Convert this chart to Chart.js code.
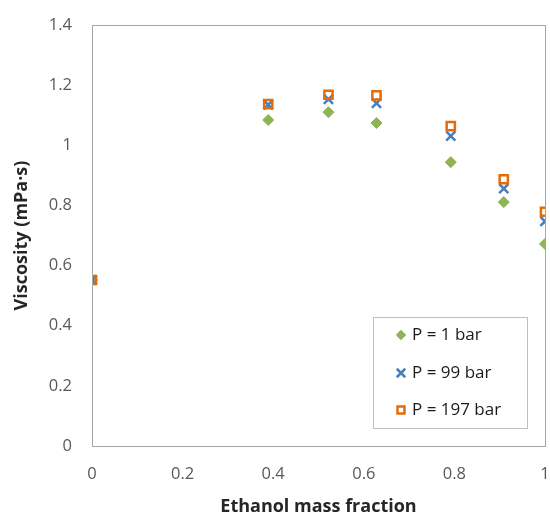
<!DOCTYPE html>
<html>
<head>
<meta charset="utf-8">
<script src="https://cdn.jsdelivr.net/npm/chart.js@4/dist/chart.umd.min.js"></script>
<style>
html,body{margin:0;padding:0;background:#fff;overflow:hidden;}
#wrap{width:550px;height:518px;position:relative;overflow:hidden;}
</style>
</head>
<body>
<div id="wrap"><canvas id="c" width="554" height="518"></canvas></div>
<script>
const massFraction = [0, 0.389, 0.522, 0.628, 0.792, 0.909, 1.0];
const visc1bar   = [0.552, 1.084, 1.110, 1.074, 0.944, 0.811, 0.672];
const visc99bar  = [0.552, 1.135, 1.153, 1.140, 1.031, 0.856, 0.747];
const visc197bar = [0.552, 1.137, 1.168, 1.166, 1.064, 0.887, 0.779];
const seriesLabels = ['P = 1 bar', 'P = 99 bar', 'P = 197 bar'];
const xTicks = [0, 0.2, 0.4, 0.6, 0.8, 1];
const yTicks = [0, 0.2, 0.4, 0.6, 0.8, 1, 1.2, 1.4];

const FONT = "'Open Sans', sans-serif";
const toPts = (xs, ys) => xs.map((x, i) => ({x: x, y: ys[i]}));

const datasets = [
  {label: seriesLabels[0], data: toPts(massFraction, visc1bar), pointStyle: 'rectRot',
   pointRadius: 5.5, backgroundColor: '#8EB454', borderColor: '#8EB454', pointBorderWidth: 1, order: 3},
  {label: seriesLabels[1], data: toPts(massFraction, visc99bar), pointStyle: 'crossRot',
   pointRadius: 6.5, backgroundColor: '#4A7EBB', borderColor: '#4A7EBB', pointBorderWidth: 2.5, order: 2},
  {label: seriesLabels[2], data: toPts(massFraction, visc197bar), pointStyle: 'rect',
   pointRadius: 5.8, backgroundColor: 'rgba(0,0,0,0)', borderColor: '#E46C0A', pointBorderWidth: 2.5, order: 1}
];

function drawMarker(ctx, ds, x, y) {
  const opts = {pointStyle: ds.pointStyle, radius: ds.pointRadius, rotation: 0, borderWidth: ds.pointBorderWidth};
  ctx.save();
  ctx.fillStyle = ds.backgroundColor;
  ctx.strokeStyle = ds.borderColor;
  ctx.lineWidth = ds.pointBorderWidth;
  Chart.helpers.drawPoint(ctx, opts, x, y);
  ctx.restore();
}

const frameAndLegend = {
  id: 'frameAndLegend',
  afterDraw(chart) {
    const ctx = chart.ctx;
    const a = chart.chartArea;
    ctx.save();
    ctx.strokeStyle = '#A6A6A6';
    ctx.lineWidth = 1;
    ctx.strokeRect(Math.round(a.left) + 0.5, Math.round(a.top) + 0.5,
                   Math.round(a.right - a.left), Math.round(a.bottom - a.top));
    // legend box
    const bx = 373.5, by = 317.5, bw = 154, bh = 111;
    ctx.fillStyle = '#fff';
    ctx.fillRect(bx, by, bw, bh);
    ctx.strokeStyle = '#BFBFBF';
    ctx.strokeRect(bx, by, bw, bh);
    ctx.font = '17px ' + FONT;
    ctx.textBaseline = 'middle';
    ctx.textAlign = 'left';
    const ys = [335, 373, 410];
    chart.data.datasets.forEach((ds, i) => {
      const lds = Object.assign({}, ds, {pointRadius: ds.pointStyle === 'crossRot' ? 6 : ds.pointRadius * 0.85});
      drawMarker(ctx, lds, 401, ys[i]);
      ctx.fillStyle = '#1a1a1a';
      ctx.fillText(ds.label, 412, ys[i]);
    });
    ctx.restore();
  }
};

const hiddenGrid = {display: true, drawOnChartArea: false, drawTicks: true, color: 'rgba(0,0,0,0)', tickColor: 'rgba(0,0,0,0)'};

new Chart(document.getElementById('c'), {
  type: 'scatter',
  data: {datasets: datasets},
  plugins: [frameAndLegend],
  options: {
    responsive: false,
    animation: false,
    devicePixelRatio: 1,
    layout: {padding: {left: 0, right: 1, top: 25, bottom: 0}},
    plugins: {legend: {display: false}, tooltip: {enabled: false}},
    scales: {
      x: {
        type: 'linear', min: 0, max: 1,
        afterBuildTicks: s => { s.ticks = xTicks.map(v => ({value: v})); },
        afterFit: s => { s.height = 72; s.paddingRight = 0; s.paddingLeft = 0; },
        grid: Object.assign({}, hiddenGrid, {tickLength: 18}),
        border: {display: false},
        ticks: {padding: 0, color: '#595959', font: {family: FONT, size: 16.5},
                callback: v => String(v)},
        title: {display: true, text: 'Ethanol mass fraction', color: '#262626',
                font: {family: FONT, size: 18, weight: 'bold'}, padding: {top: 0, bottom: 0}}
      },
      y: {
        type: 'linear', min: 0, max: 1.4,
        afterBuildTicks: s => { s.ticks = yTicks.map(v => ({value: v})); },
        afterFit: s => { s.width = 92; s.paddingTop = 0; s.paddingBottom = 0; },
        grid: Object.assign({}, hiddenGrid, {tickLength: 20}),
        border: {display: false},
        ticks: {padding: 0, color: '#595959', font: {family: FONT, size: 16.5},
                callback: v => String(v)},
        title: {display: true, text: 'Viscosity (mPa·s)', color: '#262626',
                font: {family: FONT, size: 18, weight: 'bold'}, padding: {top: 11, bottom: 0}}
      }
    }
  }
});
</script>
</body>
</html>
